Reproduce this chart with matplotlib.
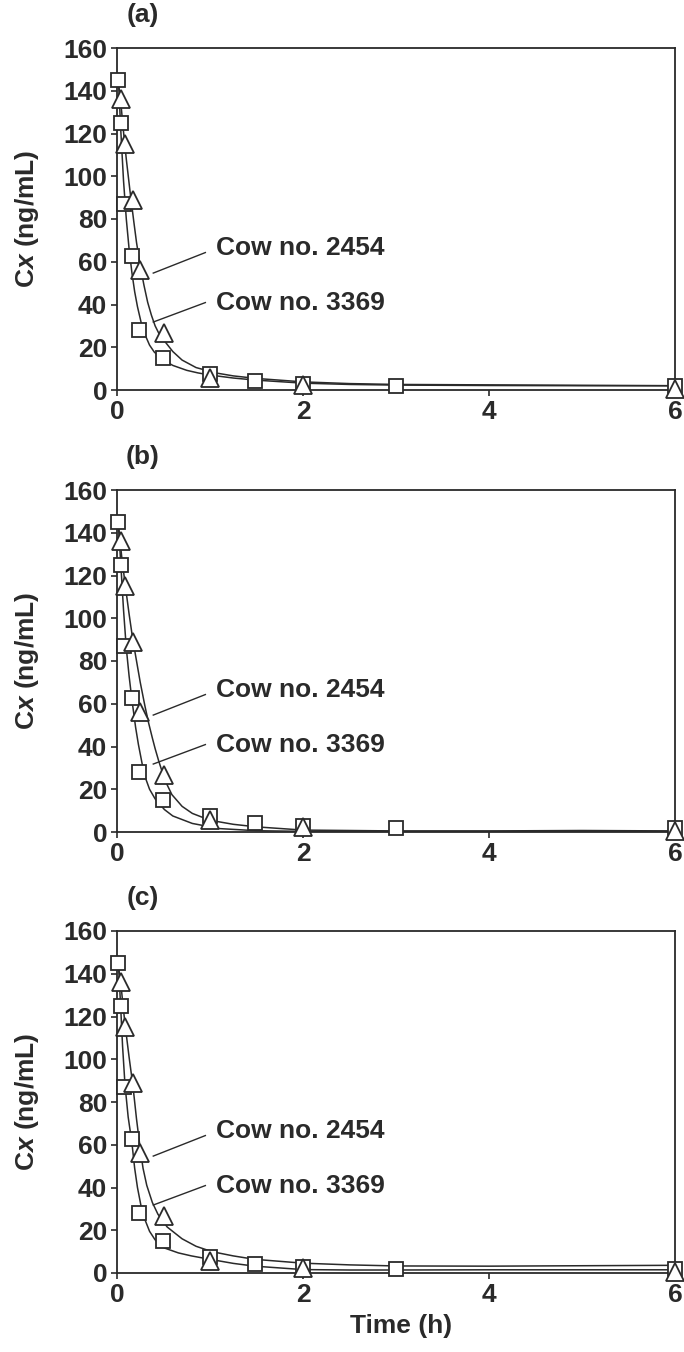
import matplotlib
matplotlib.use("Agg")
import matplotlib.pyplot as plt

plt.rcParams['font.family'] = ['Liberation Sans', 'DejaVu Sans']
plt.rcParams['font.weight'] = 'bold'
plt.rcParams['mathtext.fontset'] = 'custom'
plt.rcParams['mathtext.it'] = 'Liberation Sans:italic:bold'
plt.rcParams['mathtext.rm'] = 'Liberation Sans:bold'

# ---- observed data (same in every panel) ----
t_3369 = [0.01, 0.04, 0.075, 0.16, 0.24, 0.49, 1.0, 1.48, 2.0, 3.0, 6.0]
c_3369 = [145, 125, 87, 62.5, 28, 15, 7.5, 4.3, 3.0, 1.7, 2.0]
t_2454 = [0.04, 0.09, 0.17, 0.25, 0.5, 1.0, 2.0, 6.0]
c_2454 = [136, 115, 89, 56, 26.5, 5.8, 2.2, 0.5]

# ---- fitted curves ----
# panel (a)
fa_t_2454 = [0.02, 0.04, 0.065, 0.10, 0.14, 0.18, 0.21, 0.25, 0.29, 0.33, 0.37, 0.41, 0.45, 0.5, 0.6, 0.7, 0.85, 1.06, 1.25, 1.5, 2.0, 2.5, 3.0, 4.0, 5.0, 6.0]
fa_c_2454 = [142, 135, 123, 108, 93, 79, 69, 58, 49, 41, 35, 30, 26.5, 23.5, 18, 14, 10.5, 8, 6.6, 5.4, 3.8, 3.0, 2.6, 2.4, 2.2, 2.0]
fa_t_3369 = [0.01, 0.02, 0.04, 0.07, 0.10, 0.13, 0.16, 0.19, 0.22, 0.26, 0.3, 0.35, 0.4, 0.48, 0.6, 0.75, 0.87, 1.0, 1.25, 1.5, 2.0, 2.5, 3.0, 4.0, 5.0, 6.0]
fa_c_3369 = [148, 141, 122, 98, 80, 66, 55, 46, 39, 31.5, 26, 21, 17.8, 14.5, 11.5, 9.2, 8, 7, 5.6, 4.6, 3.2, 2.6, 2.3, 2.1, 2.0, 2.0]
# panel (b)
fb_t_2454 = [0.02, 0.05, 0.09, 0.13, 0.17, 0.21, 0.25, 0.3, 0.34, 0.38, 0.41, 0.45, 0.48, 0.54, 0.59, 0.7, 0.81, 1.0, 1.25, 1.5, 2.0, 3.0, 4.0, 5.0, 6.0]
fb_c_2454 = [142, 129, 115, 102, 90, 80, 70, 59, 51, 44, 39, 33, 29, 22, 17.5, 12, 8.7, 5.5, 3.6, 2.4, 0.9, 0.5, 0.5, 0.7, 0.5]
fb_t_3369 = [0.01, 0.04, 0.07, 0.1, 0.13, 0.16, 0.2, 0.23, 0.27, 0.3, 0.35, 0.41, 0.51, 0.6, 0.81, 1.1, 1.5, 2.0, 3.0, 4.0, 5.0, 6.0]
fb_c_3369 = [147, 126, 104, 86, 73, 62, 49, 41, 32, 26, 20, 15.5, 10.5, 7.5, 4, 1.6, 0.6, 0.3, 0.3, 0.3, 0.3, 0.3]
# panel (c)
fc_t_2454 = [0.02, 0.04, 0.065, 0.09, 0.13, 0.17, 0.21, 0.25, 0.28, 0.32, 0.38, 0.44, 0.54, 0.7, 0.85, 1.02, 1.25, 1.48, 2.0, 2.5, 3.0, 4.0, 5.0, 6.0]
fc_c_2454 = [142, 136, 125, 115, 101, 88, 72, 58, 49, 41, 33, 27.5, 21.5, 16, 12.5, 10, 8, 6.4, 4.6, 3.8, 3.3, 3.2, 3.4, 3.6]
fc_t_3369 = [0.01, 0.02, 0.04, 0.06, 0.086, 0.12, 0.16, 0.19, 0.22, 0.26, 0.3, 0.35, 0.41, 0.51, 0.66, 0.8, 1.0, 1.25, 1.48, 2.0, 2.5, 3.0, 4.0, 5.0, 6.0]
fc_c_3369 = [148, 141, 124, 106, 88, 73, 61, 49, 40, 31, 25, 19.5, 15.5, 11.7, 9.4, 8, 6.4, 4.5, 3.2, 1.6, 1.4, 1.4, 1.5, 1.5, 1.5]

panel_labels = ['(a)', '(b)', '(c)']
fits = [
    (fa_t_2454, fa_c_2454, fa_t_3369, fa_c_3369),
    (fb_t_2454, fb_c_2454, fb_t_3369, fb_c_3369),
    (fc_t_2454, fc_c_2454, fc_t_3369, fc_c_3369),
]
x_ticks = [0, 2, 4, 6]
y_ticks = [0, 20, 40, 60, 80, 100, 120, 140, 160]
label_2454 = 'Cow no. 2454'
label_3369 = 'Cow no. 3369'

W, H = 684, 1352
fig = plt.figure(figsize=(W / 100, H / 100), dpi=100)

ink = '#2a2a2a'
FS = 19
left = 117 / W
width = (675 - 117) / W
height = 342 / H
tops_px = [48, 490, 931]

for i, (ft1, fc1, ft2, fc2) in enumerate(fits):
    bottom = 1 - (tops_px[i] + 342) / H
    ax = fig.add_axes([left, bottom, width, height])
    ax.plot(ft1, fc1, color=ink, lw=1.1, zorder=2)
    ax.plot(ft2, fc2, color=ink, lw=1.1, zorder=2)
    ax.plot(t_3369, c_3369, ls='none', marker='s', ms=10, mfc='white',
            mec=ink, mew=1.3, zorder=3, clip_on=False)
    ax.plot(t_2454, c_2454, ls='none', marker='^', ms=13, mfc='white',
            mec=ink, mew=1.3, zorder=4, clip_on=False)
    ax.set_xlim(0, 6)
    ax.set_ylim(0, 160)
    ax.set_xticks(x_ticks)
    ax.set_yticks(y_ticks)
    ax.tick_params(direction='out', length=4.5, width=1.2, color=ink,
                   labelsize=FS, labelcolor=ink, pad=2.5)
    for lbl in ax.get_xticklabels() + ax.get_yticklabels():
        lbl.set_fontweight('bold')
    for sp in ax.spines.values():
        sp.set_color(ink)
        sp.set_linewidth(1.3)
    ax.set_ylabel(r'C$\mathit{x}$ (ng/mL)', fontsize=FS, fontweight='bold', color=ink)
    ax.yaxis.set_label_coords(-0.137, 0.5)
    ax.text(0.046, 1.097, panel_labels[i], transform=ax.transAxes,
            ha='center', va='center', fontsize=FS, fontweight='bold', color=ink)
    # annotations
    ax.plot([0.39, 0.95], [54.7, 64.3], color=ink, lw=1.0)
    ax.plot([0.39, 0.95], [31.8, 40.9], color=ink, lw=1.0)
    ax.text(1.06, 66.3, label_2454, ha='left', va='center', fontsize=FS,
            fontweight='bold', color=ink)
    ax.text(1.06, 40.8, label_3369, ha='left', va='center', fontsize=FS,
            fontweight='bold', color=ink)

fig.text(401 / W, 1 - 1326 / H, 'Time (h)', ha='center', va='center',
         fontsize=FS, fontweight='bold', color=ink)

fig.savefig('out.png', dpi=100)
